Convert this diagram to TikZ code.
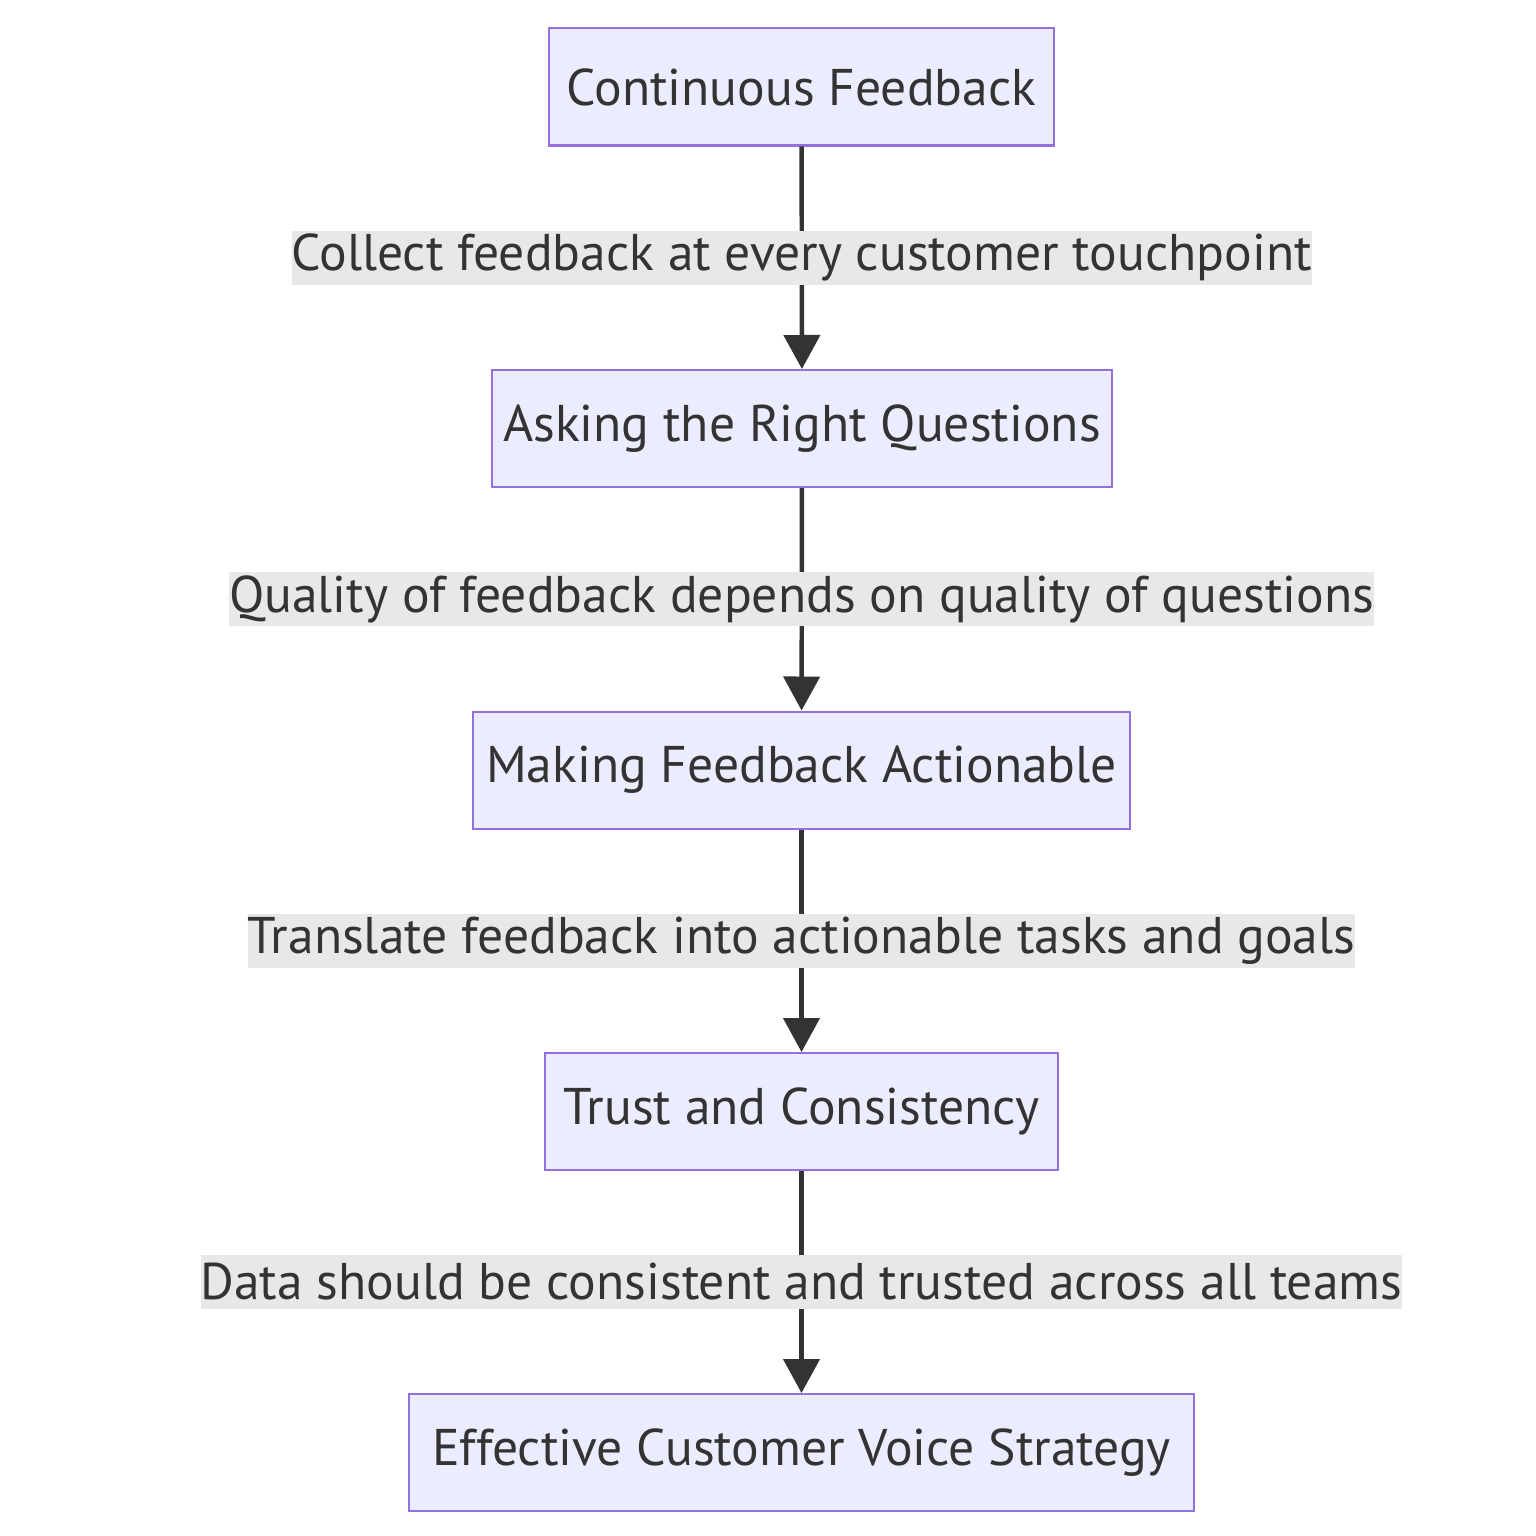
\documentclass[tikz,border=0pt]{standalone}
\usepackage{fontspec}
\setmainfont{PT Sans}
\usepackage{xcolor}
\usetikzlibrary{arrows.meta}

\definecolor{boxfill}{HTML}{ECECFF}
\definecolor{boxline}{HTML}{9370DB}
\definecolor{ink}{HTML}{333333}
\definecolor{labelbg}{HTML}{E8E8E8}

\begin{document}
\begin{tikzpicture}[x=0.5pt,y=-0.5pt,
  stage/.style={draw=boxline,fill=boxfill,line width=1pt,text=ink,
    minimum height=58.5pt,inner sep=0pt,font=\fontsize{25.8}{30}\selectfont},
  flowline/.style={draw=ink,line width=2.2pt,-{Triangle[length=17pt,width=18pt]}},
  edgetext/.style={fill=labelbg,text=ink,inner xsep=0pt,inner ysep=0pt,
    minimum height=27pt,font=\fontsize{25.8}{30}\selectfont}]
  \useasboundingbox[fill=white] (0,0) rectangle (1536,1536);
  \node[stage,minimum width=252.5pt] (cf) at (801.5,87) {Continuous Feedback};
  \node[stage,minimum width=310pt] (arq) at (802,428.5) {Asking the Right Questions};
  \node[stage,minimum width=328.5pt] (mfa) at (801.5,770) {Making Feedback Actionable};
  \node[stage,minimum width=256.5pt] (tc) at (801.5,1111.5) {Trust and Consistency};
  \node[stage,minimum width=392.5pt] (ecvs) at (801.5,1452.5) {Effective Customer Voice Strategy};
  \draw[flowline] (cf) -- node[edgetext] {Collect feedback at every customer touchpoint} (arq);
  \draw[flowline] (arq) -- node[edgetext] {Quality of feedback depends on quality of questions} (mfa);
  \draw[flowline] (mfa) -- node[edgetext] {Translate feedback into actionable tasks and goals} (tc);
  \draw[flowline] (tc) -- node[edgetext] {Data should be consistent and trusted across all teams} (ecvs);
\end{tikzpicture}
\end{document}
